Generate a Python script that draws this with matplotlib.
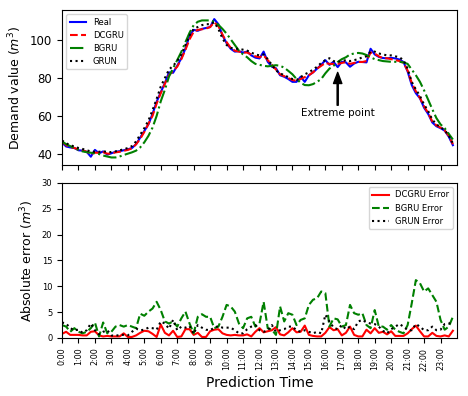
import numpy as np
import matplotlib
matplotlib.use("Agg")
import matplotlib.pyplot as plt

# 15-minute steps over one day (96 points)
real = [45.9, 43.8, 43.3, 43.0, 41.8, 41.6, 41.0, 38.4, 42.0, 40.2,
        41.2, 39.5, 40.2, 41.0, 41.3, 41.8, 42.3, 43.0, 45.0, 48.5,
        52.0, 55.5, 61.0, 67.5, 72.5, 77.3, 83.0, 82.8, 86.5, 90.5,
        95.6, 102.5, 105.5, 105.0, 106.0, 106.5, 107.0, 111.2, 108.5, 102.6,
        98.5, 95.5, 94.0, 94.2, 93.5, 94.0, 92.0, 90.8, 90.4, 94.0,
        88.6, 86.0, 85.2, 81.5, 80.7, 79.5, 78.0, 78.0, 80.7, 78.0,
        81.5, 83.0, 85.0, 87.0, 89.5, 87.0, 88.6, 85.8, 88.6, 88.3,
        86.0, 87.7, 88.6, 88.5, 88.3, 95.5, 92.5, 91.2, 90.6, 90.4,
        90.7, 90.4, 89.8, 88.5, 83.5, 76.3, 72.0, 69.3, 64.3, 61.0,
        56.5, 54.5, 53.5, 52.2, 49.0, 44.5]

dcgru = [46.5, 44.5, 43.5, 43.0, 42.2, 41.8, 41.0, 39.8, 40.5, 40.5,
         40.8, 40.0, 40.0, 40.7, 41.0, 41.5, 42.0, 42.8, 45.0, 47.8,
         51.5, 55.8, 60.0, 66.5, 72.0, 77.0, 81.5, 83.8, 86.0, 90.0,
         95.0, 100.5, 104.5, 105.5, 105.8, 106.2, 107.0, 109.5, 107.5, 103.0,
         99.0, 96.0, 94.5, 94.0, 93.5, 93.5, 92.5, 91.5, 91.0, 92.0,
         89.5, 87.0, 84.5, 82.0, 81.0, 80.0, 79.0, 78.5, 79.5, 80.5,
         81.5, 83.0, 85.0, 86.5, 88.0, 87.5, 87.5, 87.5, 88.0, 88.5,
         87.5, 88.0, 88.5, 88.5, 89.0, 93.5, 93.0, 91.5, 90.5, 90.5,
         90.0, 89.5, 89.0, 88.0, 84.0, 77.5, 73.0, 69.5, 65.0, 61.5,
         57.0, 55.0, 53.8, 52.3, 49.5, 45.0]

bgru = [46.5, 45.0, 44.0, 43.0, 42.0, 41.2, 40.8, 40.5, 40.2, 39.8,
        39.0, 38.5, 38.0, 38.0, 38.5, 39.3, 40.0, 40.7, 41.6, 43.3,
        46.0, 49.4, 53.8, 60.0, 67.7, 73.8, 80.8, 85.2, 89.5, 93.9,
        99.0, 104.0, 108.0, 109.8, 110.5, 110.5, 110.5, 109.8, 108.2, 106.0,
        103.5, 100.5, 97.5, 94.5, 92.5, 91.0, 89.0, 87.5, 87.0, 86.5,
        86.2, 86.5, 86.8, 86.5, 85.5, 83.8, 82.0, 79.5, 77.5, 76.3,
        76.2, 76.8, 78.0, 79.5, 82.5, 85.0, 86.5, 88.5, 90.0, 91.0,
        92.5, 93.0, 93.3, 93.0, 92.2, 91.0, 90.0, 89.5, 89.0, 88.8,
        88.6, 88.6, 88.6, 88.3, 87.5, 84.5, 81.5, 78.0, 73.5, 68.5,
        63.5, 58.8, 55.5, 53.5, 50.5, 47.5]

grun = [47.0, 45.5, 44.5, 43.8, 43.0, 42.5, 41.8, 41.2, 41.0, 41.0,
        41.2, 41.0, 40.8, 41.2, 41.8, 42.3, 43.0, 44.0, 46.5, 50.0,
        53.5, 57.5, 63.0, 69.0, 75.5, 80.0, 84.5, 86.5, 89.0, 92.5,
        97.5, 102.5, 106.0, 107.0, 108.0, 108.5, 108.5, 109.5, 106.0, 101.0,
        97.5, 96.0, 95.5, 95.5, 95.0, 94.5, 93.5, 92.5, 92.0, 92.5,
        90.0, 87.0, 84.0, 82.5, 81.5, 80.5, 79.5, 79.0, 80.5, 82.0,
        83.0, 84.5, 86.0, 88.0, 89.5, 90.5, 89.0, 88.5, 89.0, 89.5,
        89.0, 89.5, 90.0, 91.0, 91.5, 94.0, 94.0, 93.0, 92.5, 92.0,
        92.0, 91.5, 91.0, 89.5, 85.0, 78.0, 74.0, 70.5, 66.0, 62.5,
        58.0, 55.5, 54.0, 52.5, 49.5, 45.5]

# absolute errors
err_dcgru = [0.8, 1.2, 0.6, 0.6, 0.6, 0.5, 0.5, 1.2, 1.3, 0.5,
             0.3, 0.4, 0.3, 0.3, 0.3, 0.9, 0.2, 0.2, 0.5, 1.0,
             1.4, 1.3, 0.8, 0.2, 2.6, 1.0, 0.5, 1.4, 0.2, 0.3,
             1.7, 1.7, 0.6, 1.0, 0.2, 0.2, 1.3, 1.6, 1.7, 0.9,
             0.6, 0.5, 0.6, 0.5, 0.5, 0.7, 0.3, 1.2, 1.9, 1.1,
             1.3, 1.5, 2.1, 0.7, 0.5, 1.1, 1.9, 1.1, 1.2, 2.4,
             0.6, 0.4, 0.3, 0.3, 1.0, 2.1, 1.5, 1.7, 0.5, 1.0,
             2.2, 0.6, 0.3, 0.3, 1.6, 0.9, 1.9, 1.0, 1.2, 0.7,
             1.3, 0.4, 0.4, 0.4, 0.9, 1.7, 2.4, 1.3, 0.3, 0.3,
             1.0, 0.4, 0.3, 0.5, 0.3, 1.4]

err_bgru = [2.5, 2.2, 1.2, 1.9, 1.2, 0.9, 1.2, 1.9, 3.0, 0.3,
            3.0, 0.9, 1.2, 2.2, 2.5, 2.2, 2.5, 2.2, 1.9, 4.7,
            4.3, 5.1, 5.7, 7.0, 5.4, 3.2, 2.8, 3.2, 2.2, 3.8,
            5.1, 2.8, 0.9, 4.1, 4.6, 4.1, 4.1, 1.9, 2.2, 4.1,
            6.4, 6.1, 5.1, 2.8, 1.9, 3.8, 4.1, 2.2, 2.8, 7.0,
            1.9, 1.6, 0.6, 6.1, 3.2, 4.8, 4.5, 2.5, 3.5, 3.8,
            6.4, 7.4, 7.7, 9.0, 8.7, 2.2, 3.8, 3.6, 2.2, 2.5,
            6.4, 4.8, 4.5, 4.8, 2.5, 1.9, 5.4, 2.2, 2.2, 1.6,
            2.5, 1.6, 1.2, 0.9, 2.5, 6.7, 11.2, 10.6, 9.0, 9.6,
            8.3, 7.0, 3.5, 1.6, 2.2, 4.1]

err_grun = [3.0, 2.8, 1.9, 1.5, 1.6, 1.0, 1.5, 2.8, 1.5, 0.7,
            1.2, 1.5, 0.5, 0.4, 0.6, 0.6, 0.5, 1.2, 1.8, 1.5,
            1.6, 2.0, 1.9, 1.6, 3.2, 2.8, 1.8, 3.5, 1.5, 2.2,
            2.0, 2.3, 0.8, 2.5, 2.0, 1.6, 1.5, 2.0, 2.3, 2.0,
            2.0, 2.0, 1.5, 0.9, 0.9, 1.7, 2.2, 2.5, 1.5, 1.2,
            1.5, 2.5, 1.2, 1.5, 1.7, 2.2, 2.2, 1.5, 1.2, 1.5,
            1.2, 0.9, 1.2, 0.9, 4.5, 3.2, 2.0, 1.7, 2.5, 1.7,
            2.2, 1.7, 3.2, 3.5, 3.0, 2.8, 2.7, 2.2, 1.4, 0.9,
            1.7, 2.2, 2.7, 2.2, 1.5, 1.5, 2.7, 2.2, 1.5, 1.5,
            2.2, 1.5, 1.6, 2.7, 2.8, 3.0]

hour_labels = ["%d:00" % h for h in range(24)]

t = np.arange(len(real))

fig = plt.figure(figsize=(4.68, 3.96), dpi=100)
ax1 = fig.add_axes([0.1325, 0.5833, 0.844, 0.3914])
ax2 = fig.add_axes([0.1325, 0.1465, 0.844, 0.3914], sharex=ax1)

ax1.plot(t, real, 'b-', lw=1.5, label="Real")
ax1.plot(t, dcgru, 'r--', lw=1.5, label="DCGRU")
ax1.plot(t, bgru, 'g-.', lw=1.5, label="BGRU")
ax1.plot(t, grun, 'k:', lw=1.5, label="GRUN")
ax1.set_ylim(34, 116)
ax1.set_yticks([40, 60, 80, 100])
ax1.set_ylabel(r'Demand value ($m^3$)', fontsize=9)
ax1.tick_params(axis='y', labelsize=8.5)
ax1.tick_params(axis='x', labelbottom=False)
ax1.legend(loc='upper left', fontsize=6)
ax1.annotate("Extreme point", xy=(67, 83), xytext=(67, 61.5),
             ha='center', va='center', fontsize=7.5,
             arrowprops=dict(facecolor='black', width=0.8, headwidth=6,
                             headlength=8, shrink=0.0))

ax2.plot(t, err_dcgru, 'r-', lw=1.5, label="DCGRU Error")
ax2.plot(t, err_bgru, 'g--', lw=1.5, label="BGRU Error")
ax2.plot(t, err_grun, 'k:', lw=1.5, label="GRUN Error")
ax2.set_ylim(0, 30)
ax2.set_yticks(range(0, 31, 5))
ax2.set_xlim(0, 96)
ax2.set_xticks(t[::4])
ax2.set_xticklabels(hour_labels, rotation=90, fontsize=5.8)
ax2.tick_params(axis='y', labelsize=6)
ax2.set_ylabel(r'Absolute error ($m^3$)', fontsize=9)
ax2.set_xlabel("Prediction Time", fontsize=10)
ax2.legend(loc='upper right', fontsize=6)

fig.savefig("out.png", dpi=100)
